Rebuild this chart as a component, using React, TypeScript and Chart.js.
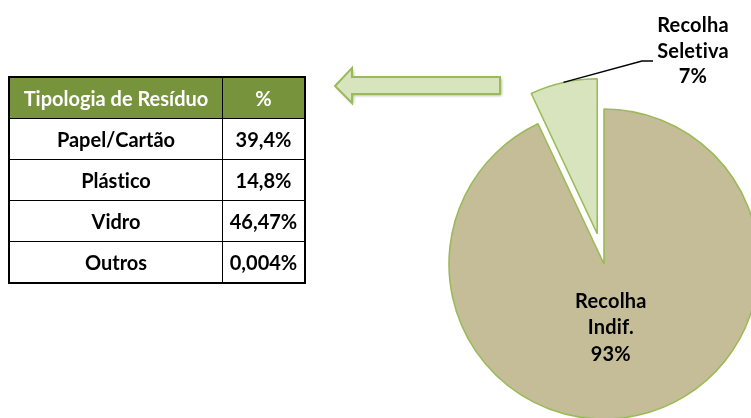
import React, { useEffect, useRef } from "react";
import { Chart, registerables } from "chart.js";
Chart.register(...registerables);

// ---- data ----
const pieCategories = [["Recolha", "Indif."], ["Recolha", "Seletiva"]];
const pieValues = [93, 7];
const pieExplode = [0, 31];
const pieColors = ["#C4BD97", "#D7E4BD"];
const tableHeader = ["Tipologia de Resíduo", "%"];
const tableCategories = ["Papel/Cartão", "Plástico", "Vidro", "Outros"];
const tableValues = [39.4, 14.8, 46.47, 0.004];

const FONT = "Lato, 'Noto Sans', sans-serif";
const fmt = (v: number) => String(v).replace(".", ",") + "%";

const W = 751;
const H = 418;
const CX = 604;
const CY = 264;
const R = 155;

const explodePlugin = {
  id: "explode",
  afterUpdate(chart: any) {
    const meta = chart.getDatasetMeta(0);
    meta.data.forEach((arc: any, i: number) => {
      const ex = pieExplode[i] || 0;
      if (!ex) return;
      const orig = Object.getPrototypeOf(arc).draw;
      arc.draw = function (ctx: CanvasRenderingContext2D, area: any) {
        const mid = (this.startAngle + this.endAngle) / 2;
        ctx.save();
        ctx.translate(Math.cos(mid) * ex, Math.sin(mid) * ex);
        orig.call(this, ctx, area);
        ctx.restore();
      };
    });
  },
};

const decorPlugin = {
  id: "decor",
  beforeDatasetsDraw(chart: any) {
    const ctx: CanvasRenderingContext2D = chart.ctx;
    ctx.save();
    ctx.shadowColor = "rgba(0,0,0,0.35)";
    ctx.shadowBlur = 3;
    ctx.shadowOffsetX = 1.5;
    ctx.shadowOffsetY = 1.5;
    ctx.beginPath();
    ctx.moveTo(335, 86);
    ctx.lineTo(352, 68);
    ctx.lineTo(352, 77);
    ctx.lineTo(500, 77);
    ctx.lineTo(500, 94);
    ctx.lineTo(352, 94);
    ctx.lineTo(352, 103);
    ctx.closePath();
    ctx.fillStyle = "#D7E4BD";
    ctx.fill();
    ctx.shadowColor = "transparent";
    ctx.strokeStyle = "#9BBB59";
    ctx.lineWidth = 2;
    ctx.lineJoin = "miter";
    ctx.stroke();
    ctx.restore();
  },
  afterDatasetsDraw(chart: any) {
    const ctx: CanvasRenderingContext2D = chart.ctx;
    const meta = chart.getDatasetMeta(0);
    ctx.save();
    ctx.fillStyle = "#000";
    ctx.font = `bold 20px ${FONT}`;
    (ctx as any).letterSpacing = "0.2px";
    ctx.textAlign = "center";
    ctx.textBaseline = "middle";
    meta.data.forEach((arc: any, i: number) => {
      const { x, y, startAngle, endAngle, outerRadius } = arc.getProps(
        ["x", "y", "startAngle", "endAngle", "outerRadius"],
        true
      );
      const mid = (startAngle + endAngle) / 2;
      const lines = [...pieCategories[i], fmt(pieValues[i])];
      const ex = pieExplode[i] || 0;
      if (!ex) {
        const lx = x + Math.cos(mid) * outerRadius * 0.41 - 7;
        const ly = y + Math.sin(mid) * outerRadius * 0.41 + 2;
        lines.forEach((t, k) => ctx.fillText(t, lx, ly + (k - 1) * 26.5));
      } else {
        const sx = x + Math.cos(mid) * (outerRadius + ex);
        const sy = y + Math.sin(mid) * (outerRadius + ex);
        ctx.beginPath();
        ctx.moveTo(sx, sy);
        ctx.lineTo(642, 61);
        ctx.lineTo(653, 61);
        ctx.strokeStyle = "#000";
        ctx.lineWidth = 1.3;
        ctx.stroke();
        lines.forEach((t, k) => ctx.fillText(t, 693, 26 + k * 25.5));
      }
    });
    ctx.restore();
  },
};

export default function App() {
  const ref = useRef<HTMLCanvasElement>(null);
  useEffect(() => {
    if (!ref.current) return;
    const chart = new Chart(ref.current, {
      type: "pie",
      data: {
        labels: pieCategories.map((l) => l.join(" ")),
        datasets: [
          {
            data: pieValues,
            backgroundColor: pieColors,
            borderColor: "#9BBB59",
            borderWidth: 1.6,
            clip: false,
          } as any,
        ],
      },
      options: {
        animation: false,
        responsive: false,
        radius: R,
        events: [],
        layout: {
          padding: { left: CX - 4, right: W - CX - 4, top: CY - 4, bottom: H - CY - 4 },
        },
        plugins: { legend: { display: false }, tooltip: { enabled: false } },
      } as any,
      plugins: [explodePlugin, decorPlugin],
    });
    return () => chart.destroy();
  }, []);

  const cellBase: React.CSSProperties = {
    border: "1px solid #000",
    textAlign: "center",
    verticalAlign: "middle",
    padding: 0,
    height: 40,
  };

  return (
    <div style={{ position: "fixed", left: 0, top: 0, width: W, height: H, overflow: "hidden", background: "#fff" }}>
      <canvas ref={ref} width={W} height={H} style={{ position: "absolute", left: 0, top: 0, display: "block" }} />
      <table
        style={{
          position: "absolute",
          left: 8,
          top: 76,
          width: 298,
          borderCollapse: "collapse",
          border: "2px solid #000",
          fontFamily: FONT,
          fontWeight: 700,
          fontSize: 20,
          fontVariantLigatures: "none",
          color: "#000",
        }}
      >
        <thead>
          <tr style={{ background: "#77933C", color: "#fff" }}>
            <th style={{ ...cellBase, width: 212 }}>{tableHeader[0]}</th>
            <th style={cellBase}>{tableHeader[1]}</th>
          </tr>
        </thead>
        <tbody>
          {tableCategories.map((c, i) => (
            <tr key={c}>
              <td style={cellBase}>{c}</td>
              <td style={cellBase}>{fmt(tableValues[i])}</td>
            </tr>
          ))}
        </tbody>
      </table>
    </div>
  );
}
